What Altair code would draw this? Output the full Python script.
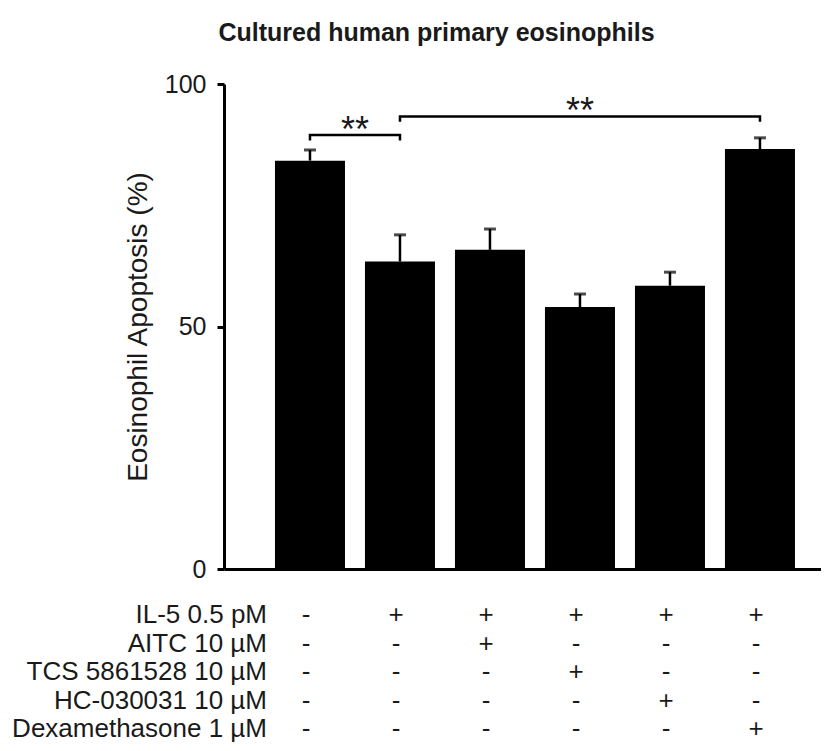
import altair as alt
import pandas as pd

# ---- data ----
conditions = ["Control", "IL-5", "IL-5 + AITC", "IL-5 + TCS", "IL-5 + HC", "IL-5 + Dex"]
apoptosis = [84.2, 63.4, 65.8, 54.0, 58.4, 86.6]
sem = [2.2, 5.5, 4.3, 2.7, 2.8, 2.3]

treatments = ["IL-5 0.5 pM", "AITC 10 µM", "TCS 5861528 10 µM", "HC-030031 10 µM", "Dexamethasone 1 µM"]
il5_signs = ["-", "+", "+", "+", "+", "+"]
aitc_signs = ["-", "-", "+", "-", "-", "-"]
tcs_signs = ["-", "-", "-", "+", "-", "-"]
hc_signs = ["-", "-", "-", "-", "+", "-"]
dex_signs = ["-", "-", "-", "-", "-", "+"]

bracket_start = ["Control", "IL-5"]
bracket_end = ["IL-5", "IL-5 + Dex"]
bracket_level = [89.5, 93.3]
bracket_leg = [0.9, 0.8]
bracket_label = ["**", "**"]
star_position = ["Control", "IL-5 + TCS"]

FONT = "Liberation Sans"

# ---- tables ----
bars_df = pd.DataFrame({"cond": conditions, "value": apoptosis, "sem": sem})
bars_df["upper"] = bars_df["value"] + bars_df["sem"]

rows = []
for i in range(len(bracket_start)):
    pts = [(bracket_start[i], bracket_level[i] - bracket_leg[i]),
           (bracket_start[i], bracket_level[i]),
           (bracket_end[i], bracket_level[i]),
           (bracket_end[i], bracket_level[i] - bracket_leg[i])]
    for k, (c, v) in enumerate(pts):
        rows.append({"bracket": i, "seq": k, "cond": c, "level": v})
bracket_df = pd.DataFrame(rows)

stars_df = pd.DataFrame({"bracket": [0, 1], "cond": star_position,
                         "level": bracket_level, "label": bracket_label})

sign_lists = [il5_signs, aitc_signs, tcs_signs, hc_signs, dex_signs]
tab_rows = []
for t, signs in zip(treatments, sign_lists):
    for c, s in zip(conditions, signs):
        tab_rows.append({"row": t, "cond": c, "sign": s})
table_df = pd.DataFrame(tab_rows)
labels_df = pd.DataFrame({"row": treatments})

# ---- scales ----
x_scale = alt.Scale(domain=conditions, paddingInner=0.222, paddingOuter=0.4277, align=0.662)
y_scale = alt.Scale(domain=[0, 100], nice=False, zero=True)
row_scale = alt.Scale(type="point", domain=treatments, range=[531, 645], padding=0)

X = alt.X("cond:N", scale=x_scale, sort=conditions,
          axis=alt.Axis(labels=False, ticks=False, title=None, domainWidth=3,
                        domainColor="black", grid=False))

y_axis = alt.Axis(values=[0, 50, 100], tickSize=7, tickWidth=3, tickColor="black",
                  domainWidth=3, domainColor="black", labelFontSize=25,
                  labelColor="#1a1a1a", labelPadding=11, labelFont=FONT, grid=False,
                  title="Eosinophil Apoptosis (%)", titleFontSize=28,
                  titleFontWeight="normal", titleFont=FONT, titleColor="#1a1a1a",
                  titleX=-86, titleBaseline="middle")

bars = alt.Chart(bars_df).mark_bar(color="black").encode(
    x=X, y=alt.Y("value:Q", scale=y_scale, axis=y_axis))

whisk = alt.Chart(bars_df).mark_rule(color="black", strokeWidth=2.5).encode(
    x=X, y=alt.Y("value:Q", scale=y_scale), y2="upper:Q")

caps = alt.Chart(bars_df).mark_tick(color="black", orient="horizontal",
                                     size=12, thickness=3).encode(
    x=X, y=alt.Y("upper:Q", scale=y_scale))

brackets = alt.Chart(bracket_df).mark_line(color="black", strokeWidth=2.5,
                                            strokeCap="square").encode(
    x=X, y=alt.Y("level:Q", scale=y_scale), detail="bracket:N", order="seq:Q")

stars1 = alt.Chart(stars_df).transform_filter("datum.bracket == 0").mark_text(
    fontSize=36, font=FONT, dx=45, dy=7, baseline="alphabetic", color="#1a1a1a").encode(
    x=X, y=alt.Y("level:Q", scale=y_scale), text="label:N")

stars2 = alt.Chart(stars_df).transform_filter("datum.bracket == 1").mark_text(
    fontSize=36, font=FONT, dx=0, dy=7, baseline="alphabetic", color="#1a1a1a").encode(
    x=X, y=alt.Y("level:Q", scale=y_scale), text="label:N")

main = alt.layer(bars, whisk, caps, brackets, stars1, stars2)

signs_layer = alt.Chart(table_df).mark_text(
    fontSize=26, font=FONT, dx=-4, baseline="middle", color="#1a1a1a").encode(
    x=X, y=alt.Y("row:N", scale=row_scale, axis=None), text="sign:N")

labels_layer = alt.Chart(labels_df).mark_text(
    fontSize=26, font=FONT, align="right", baseline="middle", color="#1a1a1a").encode(
    x=alt.value(43), y=alt.Y("row:N", scale=row_scale, axis=None), text="row:N")

table = alt.layer(signs_layer, labels_layer)

chart = alt.layer(main, table).resolve_scale(y="independent").properties(
    width=597, height=485,
    padding={"left": 216, "top": 76, "right": 0, "bottom": 174},
    autosize=alt.AutoSizeParams(type="none"),
    title=alt.TitleParams("Cultured human primary eosinophils", font=FONT,
                          fontSize=25, fontWeight="bold", color="#1a1a1a",
                          anchor="middle", dx=-86, offset=26),
).configure_view(stroke=None)

chart.save("out.html", embed_options={"renderer": "svg", "actions": False})
